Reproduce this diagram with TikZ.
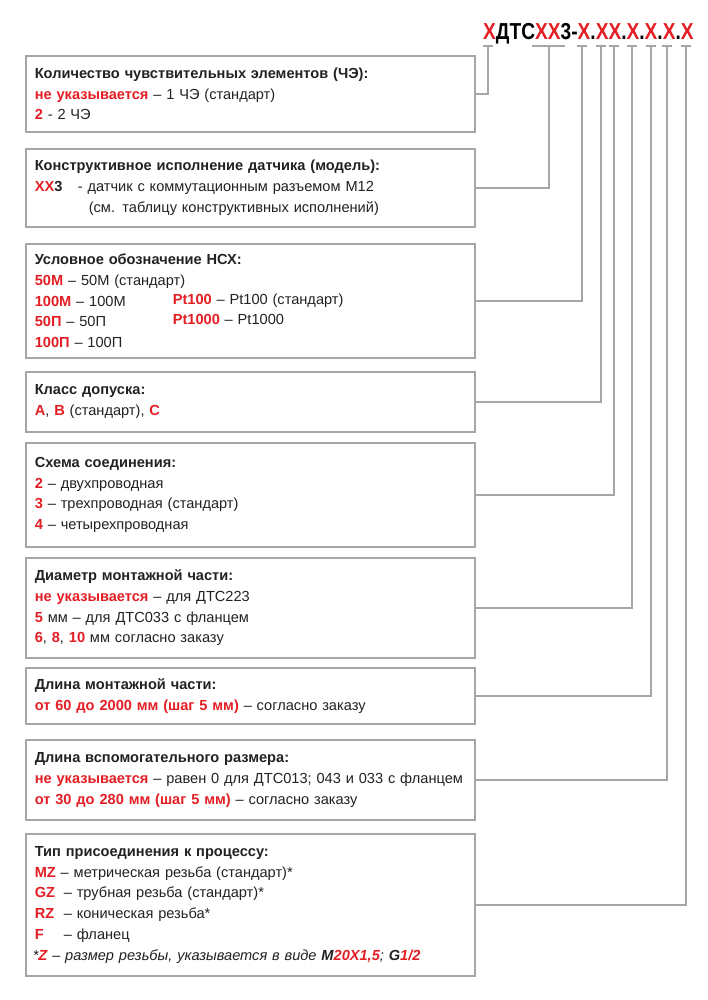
\documentclass[tikz,border=0pt]{standalone}
\usepackage{fontspec}
\usepackage{graphicx}
\setmainfont{Liberation Sans}
\definecolor{myred}{HTML}{E31E24}
\definecolor{mytext}{HTML}{222222}
\definecolor{mygray}{HTML}{A6A6A8}
\newcommand{\rb}[1]{\textbf{\textcolor{myred}{#1}}}
\newcommand{\rc}[1]{\textcolor{myred}{#1}}
\tikzset{
  infobox/.style={draw=mygray, line width=1.6pt, anchor=north west, minimum width=449pt,
    text width=431pt, inner xsep=9pt, inner ysep=0pt, align=left, text=mytext,
    font=\fontsize{14.6}{20.75}\selectfont},
  conn/.style={draw=mygray, line width=1.6pt}
}
\begin{document}
\begin{tikzpicture}[x=1pt,y=-1pt]
\useasboundingbox[fill=white] (0,0) rectangle (708,1000);
% header code
\node[anchor=base west, inner sep=0pt, text=black] (hdr) at (483,40)
  {\scalebox{0.87}[1.05]{\fontsize{22}{22}\selectfont\bfseries \rc{Х}ДТС\rc{ХХ}3-\rc{Х}.\rc{ХХ}.\rc{Х}.\rc{Х}.\rc{Х}.\rc{Х}}};
% boxes
\node[infobox, minimum height=76pt] (b1) at (25,55) {%
\textbf{Количество чувствительных элементов (ЧЭ):}\\
\rb{не указывается} – 1 ЧЭ (стандарт)\\
\rb{2} - 2 ЧЭ};
\node[infobox, minimum height=78pt] (b2) at (25,148) {%
\textbf{Конструктивное исполнение датчика (модель):}\\
\makebox[43pt][l]{\rb{ХХ}\textbf{3}}- датчик с коммутационным разъемом М12\\
\hspace*{54pt}(см. таблицу конструктивных исполнений)};
\node[infobox, minimum height=114pt] (b3) at (25,243) {%
\textbf{Условное обозначение НСХ:}\\
\rb{50М} – 50М (стандарт)\\
\makebox[138pt][l]{\rb{100М} – 100М}\raisebox{1.5pt}{\rb{Pt100} – Pt100 (стандарт)}\\
\makebox[138pt][l]{\rb{50П} – 50П}\raisebox{2pt}{\rb{Pt1000} – Pt1000}\\
\rb{100П} – 100П};
\node[infobox, minimum height=60pt] (b4) at (25,371) {%
\textbf{Класс допуска:}\\
\rb{A}, \rb{B} (стандарт), \rb{C}};
\node[infobox, minimum height=104pt] (b5) at (25,442) {%
\textbf{Схема соединения:}\\
\rb{2} – двухпроводная\\
\rb{3} – трехпроводная (стандарт)\\
\rb{4} – четырехпроводная};
\node[infobox, minimum height=100pt] (b6) at (25,557) {%
\textbf{Диаметр монтажной части:}\\
\rb{не указывается} – для ДТС223\\
\rb{5} мм – для ДТС033 с фланцем\\
\rb{6}, \rb{8}, \rb{10} мм согласно заказу};
\node[infobox, minimum height=56pt] (b7) at (25,667) {%
\textbf{Длина монтажной части:}\\
\rb{от 60 до 2000 мм (шаг 5 мм)} – согласно заказу};
\node[infobox, minimum height=80pt] (b8) at (25,739) {%
\textbf{Длина вспомогательного размера:}\\
\rb{не указывается} – равен 0 для ДТС013; 043 и 033 с фланцем\\
\rb{от 30 до 280 мм (шаг 5 мм)} – согласно заказу};
\node[infobox, minimum height=142pt] (b9) at (25,833) {%
\textbf{Тип присоединения к процессу:}\\
\rb{MZ} – метрическая резьба (стандарт)*\\
\makebox[29pt][l]{\rb{GZ}}– трубная резьба (стандарт)*\\
\makebox[29pt][l]{\rb{RZ}}– коническая резьба*\\
\makebox[29pt][l]{\rb{F}}– фланец\\
\hspace*{-2pt}\textit{*\rb{Z} – размер резьбы, указывается в виде \textbf{M}\rb{20X1,5}; \textbf{G}\rb{1/2}}};
% tick coordinates under header
\coordinate (t1) at (488,46);
\coordinate (t2) at (549,46);
\coordinate (t3) at (582,46);
\coordinate (t4) at (601,46);
\coordinate (t5) at (614,46);
\coordinate (t6) at (632,46);
\coordinate (t7) at (651,46);
\coordinate (t8) at (667,46);
\coordinate (t9) at (686,46);
% tick bars
\foreach \t in {t1,t3,t4,t5,t6,t7,t8,t9}{
  \draw[conn] ([xshift=-5pt]\t) -- ([xshift=5pt]\t);
}
\draw[conn] ([xshift=-17pt]t2) -- ([xshift=16pt]t2);
% connectors
\draw[conn] (t1) |- (b1.east);
\draw[conn] (t2) |- (b2.east);
\draw[conn] (t3) |- (b3.east);
\draw[conn] (t4) |- (b4.east);
\draw[conn] (t5) |- (b5.east);
\draw[conn] (t6) |- (b6.east);
\draw[conn] (t7) |- (b7.east);
\draw[conn] (t8) |- (b8.east);
\draw[conn] (t9) |- (b9.east);
\end{tikzpicture}
\end{document}
